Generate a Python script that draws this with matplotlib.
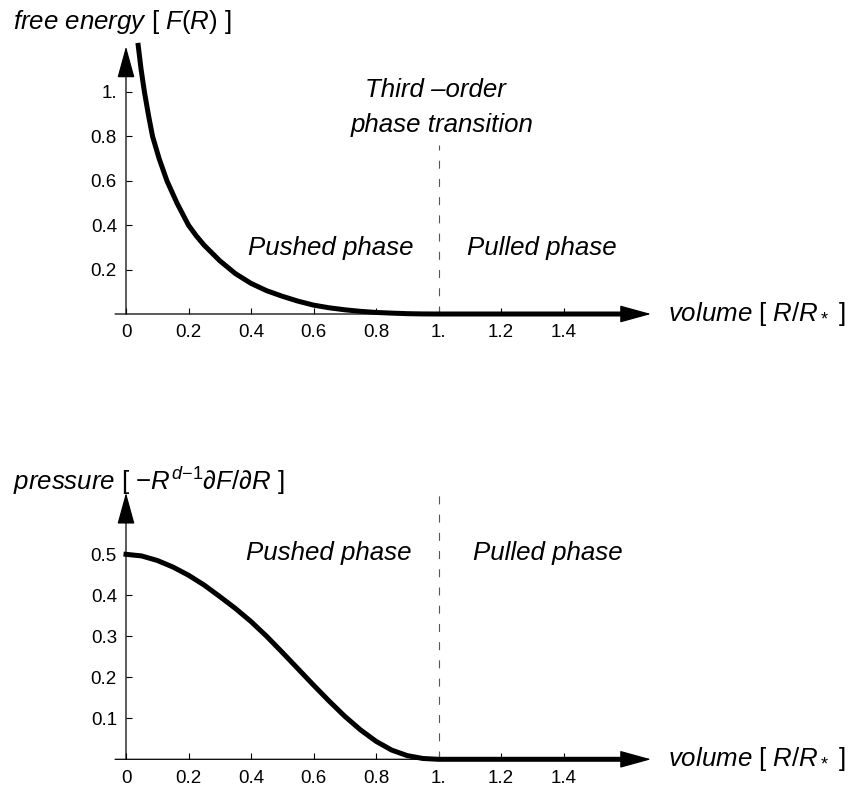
import matplotlib
matplotlib.use('Agg')
import matplotlib.pyplot as plt

plt.rcParams['font.family'] = ['Liberation Sans', 'DejaVu Sans']
plt.rcParams['mathtext.fontset'] = 'custom'
plt.rcParams['mathtext.rm'] = 'Liberation Sans'
plt.rcParams['mathtext.it'] = 'Liberation Sans:italic'

# values
vol_F = [0.039, 0.048, 0.059, 0.072, 0.085, 0.106, 0.131, 0.163, 0.2, 0.225,
         0.25, 0.3, 0.35, 0.4, 0.45, 0.5, 0.55, 0.6, 0.65, 0.7, 0.75, 0.8,
         0.85, 0.9, 0.95, 1.0, 1.59]
free_energy = [1.21, 1.105, 1.0, 0.895, 0.8, 0.7, 0.6, 0.5, 0.4, 0.352,
               0.31, 0.24, 0.182, 0.138, 0.105, 0.08, 0.058, 0.04, 0.028, 0.019,
               0.012, 0.007, 0.004, 0.0015, 0.0003, 0.0, 0.0]

vol_P = [0.0, 0.05, 0.1, 0.15, 0.2, 0.25, 0.3, 0.35, 0.4, 0.45, 0.5, 0.55,
         0.6, 0.65, 0.7, 0.75, 0.8, 0.85, 0.9, 0.95, 1.0, 1.59]
pressure = [0.5, 0.496, 0.485, 0.469, 0.449, 0.425, 0.397, 0.368, 0.336, 0.3,
            0.261, 0.221, 0.181, 0.142, 0.105, 0.072, 0.044, 0.0225, 0.009,
            0.002, 0.0, 0.0]

x_ticks = [0, 0.2, 0.4, 0.6, 0.8, 1.0, 1.2, 1.4]
x_ticklabels = ['0', '0.2', '0.4', '0.6', '0.8', '1.', '1.2', '1.4']
yF_ticks = [0.2, 0.4, 0.6, 0.8, 1.0]
yF_ticklabels = ['0.2', '0.4', '0.6', '0.8', '1.']
yP_ticks = [0.1, 0.2, 0.3, 0.4, 0.5]
yP_ticklabels = ['0.1', '0.2', '0.3', '0.4', '0.5']

W, H = 850, 792
fig = plt.figure(figsize=(W / 100, H / 100), dpi=100)


def px_axes(left, top, right, bottom):
    return fig.add_axes([left / W, 1 - bottom / H, (right - left) / W, (bottom - top) / H])


def setup(ax, yticks, ylabels, ytop, dash_top):
    ax.patch.set_visible(False)
    for s in ax.spines.values():
        s.set_visible(False)
    ax.spines['left'].set_position(('data', 0))
    ax.spines['bottom'].set_position(('data', 0))
    ax.set_xticks(x_ticks)
    ax.set_xticklabels(x_ticklabels)
    ax.set_yticks(yticks)
    ax.set_yticklabels(ylabels)
    ax.tick_params(direction='in', length=4, width=0.8, labelsize=13.5, color='black')
    ax.tick_params(axis='x', pad=7.5)
    ax.tick_params(axis='y', pad=6.5)
    arrow = dict(arrowstyle='-|>,head_length=20,head_width=5.5', color='black',
                 lw=0.9, shrinkA=0, shrinkB=0, mutation_scale=1)
    ax.annotate('', xy=(1.68, 0), xytext=(-0.035, 0), arrowprops=arrow)
    ax.annotate('', xy=(0, ytop), xytext=(0, 0), arrowprops=arrow)
    ax.plot([1.0, 1.0], [0, dash_top], color='#555555', lw=0.8, dashes=(7.2, 9.2))
    ax.text(1.734, 0, r'$volume$ [ $R/R_*$ ]', fontsize=18.6, ha='left', va='center')


# top panel: free energy
ax1 = px_axes(126 - 0.4 * 312.5, 314 - 1.35 * 222, 126 + 2.3 * 312.5, 314 + 0.15 * 222)
ax1.set_xlim(-0.4, 2.3)
ax1.set_ylim(-0.15, 1.35)
setup(ax1, yF_ticks, yF_ticklabels, 1.205, 0.76)
ax1.plot(vol_F, free_energy, color='black', lw=3.6, solid_joinstyle='round')
ax1.text(0.655, 0.297, 'Pushed phase', fontsize=18.6, style='italic', ha='center', va='center')
ax1.text(1.33, 0.297, 'Pulled phase', fontsize=18.6, style='italic', ha='center', va='center')
ax1.text(0.99, 1.009, 'Third \u2013order', fontsize=18.6, style='italic', ha='center', va='center')
ax1.text(1.01, 0.851, 'phase transition', fontsize=18.6, style='italic', ha='center', va='center')

# bottom panel: pressure
ax2 = px_axes(126 - 0.4 * 312.5, 759.3 - 0.8 * 410, 126 + 2.3 * 312.5, 759.3 + 0.07 * 410)
ax2.set_xlim(-0.4, 2.3)
ax2.set_ylim(-0.07, 0.8)
setup(ax2, yP_ticks, yP_ticklabels, 0.65, 0.65)
ax2.plot(vol_P, pressure, color='black', lw=3.6, solid_joinstyle='round')
ax2.text(0.65, 0.503, 'Pushed phase', fontsize=18.6, style='italic', ha='center', va='center')
ax2.text(1.35, 0.503, 'Pulled phase', fontsize=18.6, style='italic', ha='center', va='center')

fig.text(13 / W, 1 - 28.5 / H, r'$free\ energy$ [ $F(R)$ ]', fontsize=18.6,
         ha='left', va='baseline')
fig.text(13 / W, 1 - 490 / H, r'$pressure$ [ $-R^{d{-}1}\partial F/\partial R$ ]',
         fontsize=18.6, ha='left', va='baseline')

fig.savefig('out.png', dpi=100)
